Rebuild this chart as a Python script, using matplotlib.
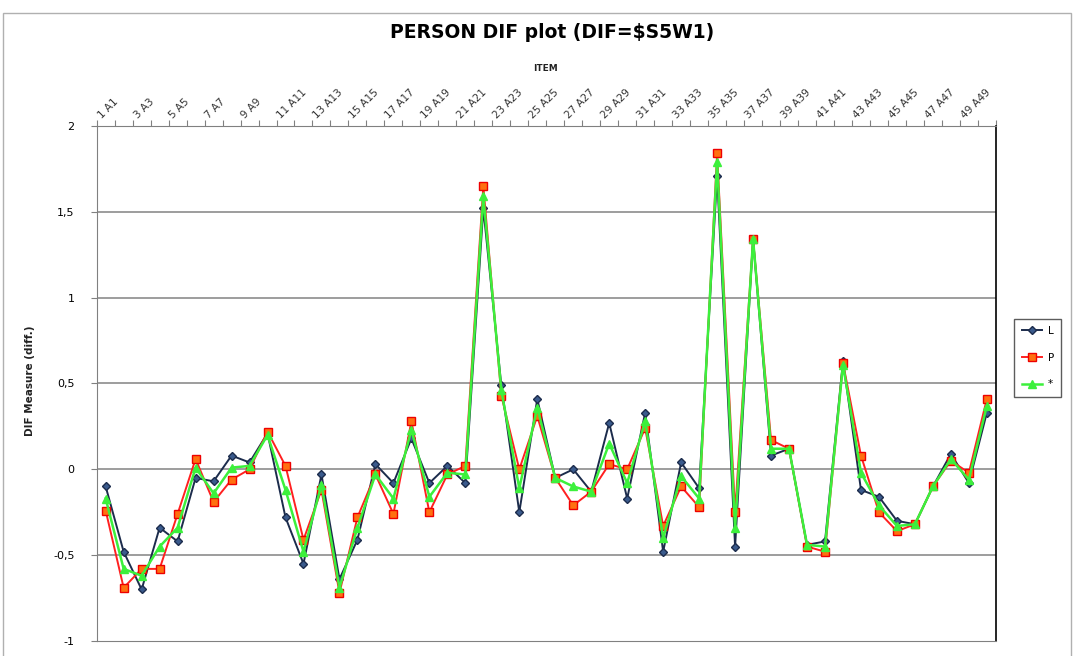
import numpy as np
import matplotlib
matplotlib.use("Agg")
import matplotlib.pyplot as plt
from matplotlib.patches import Rectangle

# item labels 1 A1 ... 50 A50 (every second one is shown)
items = [f"{i} A{i}" for i in range(1, 51)]

L = [-0.10, -0.48, -0.70, -0.34, -0.42, -0.05, -0.07, 0.08, 0.04, 0.21,
     -0.28, -0.55, -0.03, -0.64, -0.41, 0.03, -0.08, 0.18, -0.08, 0.02,
     -0.08, 1.52, 0.49, -0.25, 0.41, -0.05, 0.00, -0.13, 0.27, -0.17,
     0.33, -0.48, 0.04, -0.11, 1.71, -0.45, 1.34, 0.08, 0.12, -0.44,
     -0.42, 0.63, -0.12, -0.16, -0.30, -0.32, -0.10, 0.09, -0.08, 0.33]
P = [-0.24, -0.69, -0.58, -0.58, -0.26, 0.06, -0.19, -0.06, 0.00, 0.22,
     0.02, -0.41, -0.12, -0.72, -0.28, -0.03, -0.26, 0.28, -0.25, -0.03,
     0.02, 1.65, 0.43, 0.00, 0.31, -0.05, -0.21, -0.13, 0.03, 0.00,
     0.24, -0.33, -0.10, -0.22, 1.84, -0.25, 1.34, 0.17, 0.12, -0.45,
     -0.48, 0.62, 0.08, -0.25, -0.36, -0.32, -0.10, 0.05, -0.02, 0.41]
S = [-0.17, -0.58, -0.62, -0.45, -0.34, 0.01, -0.14, 0.01, 0.02, 0.20,
     -0.12, -0.48, -0.09, -0.69, -0.34, -0.03, -0.17, 0.23, -0.16, -0.02,
     -0.03, 1.59, 0.46, -0.11, 0.36, -0.05, -0.10, -0.13, 0.15, -0.08,
     0.28, -0.40, -0.04, -0.17, 1.79, -0.34, 1.34, 0.12, 0.12, -0.44,
     -0.45, 0.61, -0.02, -0.21, -0.33, -0.32, -0.10, 0.06, -0.06, 0.37]

x = np.arange(1, len(items) + 1)

fig = plt.figure(figsize=(10.73, 6.56), dpi=100)
ax = fig.add_axes([0.0901, 0.0229, 0.838, 0.785])

# chart frame
fig.patches.append(Rectangle((0.003, -0.01), 0.995, 0.99, transform=fig.transFigure,
                             fill=False, edgecolor="#b0b0b0", linewidth=1))

ax.plot(x, L, color="#1c2c4c", lw=1.4, marker="D", ms=4,
        mfc="#3a5a8c", mec="#1c2c4c", label="L", zorder=3)
ax.plot(x, P, color="#ff2020", lw=1.4, marker="s", ms=6,
        mfc="#ff7010", mec="#ee0000", label="P", zorder=4)
ax.plot(x, S, color="#3cf03c", lw=1.8, marker="^", ms=6,
        mfc="#3cf03c", mec="#3cf03c", label="*", zorder=5)

ax.set_xlim(0.5, len(items) + 0.5)
ax.set_ylim(-1, 2)
ax.set_yticks([-1, -0.5, 0, 0.5, 1, 1.5, 2])
ax.set_yticklabels(["-1", "-0,5", "0", "0,5", "1", "1,5", "2"], fontsize=8)
ax.tick_params(axis="y", length=4, color="#808080", pad=12)
for yv in [-0.5, 0, 0.5, 1, 1.5]:
    ax.axhline(yv, color="#8c8c8c", lw=1.2, zorder=1)

# category axis on top
ax.xaxis.tick_top()
ax.set_xticks(np.arange(0.5, len(items) + 1, 1.0))
ax.set_xticklabels([])
ax.tick_params(axis="x", which="major", direction="out", length=4, color="#808080")
for xi, lab in zip(x[::2], items[::2]):
    ax.text(xi - 0.15, 2.03, lab, rotation=45, rotation_mode="anchor",
            ha="left", va="bottom", fontsize=7.5, color="#333333")

for s in ["left", "top", "bottom"]:
    ax.spines[s].set_color("#808080")
ax.spines["right"].set_color("black")
ax.spines["right"].set_linewidth(1.2)

fig.text(0.515, 0.951, "PERSON DIF plot (DIF=$S5W1)", ha="center", va="center",
         fontsize=13.5, fontweight="bold")
fig.text(0.508, 0.895, "ITEM", ha="center", va="center", fontsize=6.5,
         fontweight="bold", color="#222222")
fig.text(0.028, 0.42, "DIF Measure (diff.)", rotation=90, ha="center", va="center",
         fontsize=7.5, fontweight="bold", color="#222222")

leg = ax.legend(loc="center left", bbox_to_anchor=(1.017, 0.55), fontsize=7.5,
                frameon=True, fancybox=False, edgecolor="#333333",
                handlelength=2.0, handletextpad=0.5, borderpad=0.7,
                borderaxespad=0.3, labelspacing=1.6)
leg.get_frame().set_linewidth(1)

fig.savefig("out.png", dpi=100)
